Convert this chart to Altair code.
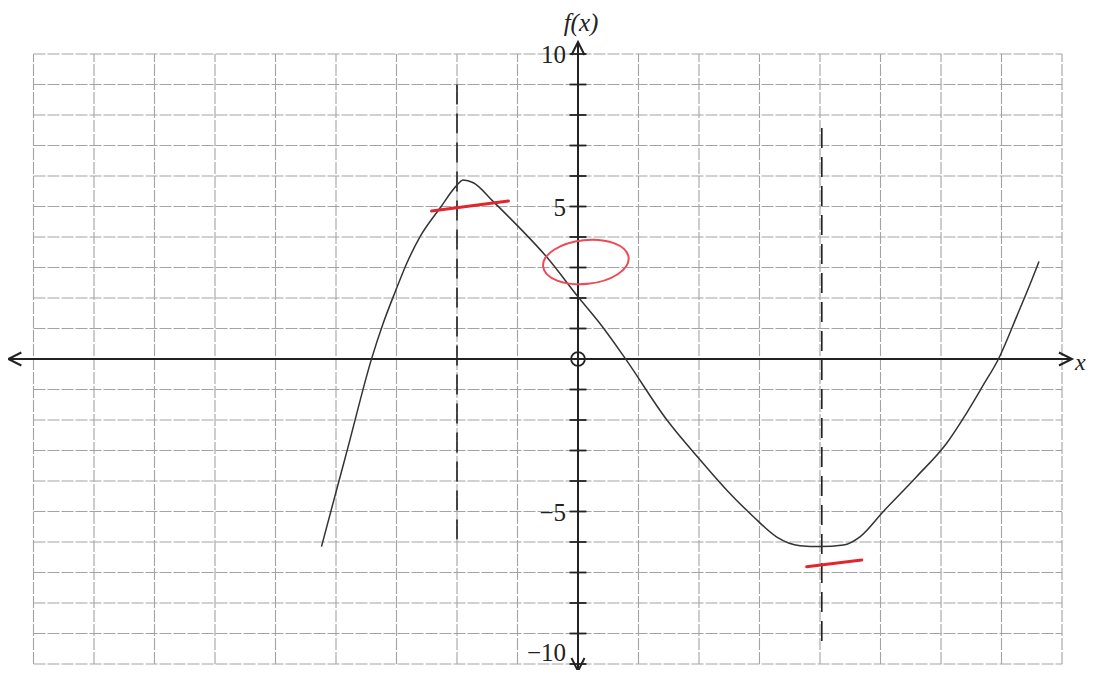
import altair as alt
import pandas as pd

# ---- data ----
curve_x = [-4.24, -4.04, -3.80, -3.41, -3.22, -3.02, -2.83, -2.61, -2.28, -2.00, -1.90, -1.73,
           -1.40, -1.01, -0.52, 0.00, 0.36, 0.78, 1.47, 2.02, 2.46, 2.90, 3.28, 3.67, 4.00,
           4.39, 4.66, 5.05, 5.60, 6.09, 6.42, 6.70, 6.95, 7.25, 7.50, 7.62]
curve_y = [-6.15, -4.66, -2.88, 0.02, 1.17, 2.21, 3.14, 4.01, 4.95, 5.70, 5.87, 5.78,
           5.16, 4.39, 3.35, 2.04, 1.17, 0.02, -2.00, -3.31, -4.30, -5.17, -5.83, -6.12, -6.15,
           -6.10, -5.83, -4.99, -3.85, -2.77, -1.78, -0.85, 0.00, 1.39, 2.59, 3.20]

grid_x = list(range(-9, 9))      # vertical grid lines
grid_y = list(range(-10, 11))    # horizontal grid lines
tick_y = [v for v in range(-10, 11) if v != 0]
label_text = ["10", "5", "\u22125", "\u221210"]

dash_x = [-2.0, 4.03]
dash_top = [9.0, 7.57]
dash_bot = [-5.93, -9.54]

red_x1 = [-2.42, 3.78]
red_y1 = [4.85, -6.81]
red_x2 = [-1.15, 4.69]
red_y2 = [5.18, -6.59]
circle_x = [0.13]
circle_y = [3.18]

W, H = 1078, 662
X_DOM = [(8 - 578) / 60.5, (8 + W - 578) / 60.5]
Y_DOM = [(359 - (8 + H)) / 30.5, (359 - 8) / 30.5]

xs = alt.Scale(domain=X_DOM, nice=False, zero=False)
ys = alt.Scale(domain=Y_DOM, nice=False, zero=False)


def X(f="x"):
    return alt.X(f"{f}:Q", scale=xs, axis=None)


def Y(f="y"):
    return alt.Y(f"{f}:Q", scale=ys, axis=None)


GRID = "#a3a3a3"
SERIF = "'Liberation Serif', 'DejaVu Serif', serif"

vgrid = alt.Chart(pd.DataFrame({"x": grid_x, "y": -10, "y2": 10})).mark_rule(
    color=GRID, strokeWidth=1.1, strokeDash=[12, 2]
).encode(x=X(), y=Y(), y2="y2:Q")

hgrid = alt.Chart(pd.DataFrame({"y": grid_y, "x": -9, "x2": 8})).mark_rule(
    color=GRID, strokeWidth=1.1, strokeDash=[12, 2]
).encode(x=X(), x2="x2:Q", y=Y())

xaxis = alt.Chart(pd.DataFrame({"x": [X_DOM[0] + 0.02], "x2": [(1071 - 578) / 60.5], "y": [0]})).mark_rule(
    color="#222", strokeWidth=2
).encode(x=X(), x2="x2:Q", y=Y())

yaxis = alt.Chart(pd.DataFrame({"y": [(359 - 674) / 30.5], "y2": [(359 - 42) / 30.5], "x": [0]})).mark_rule(
    color="#222", strokeWidth=2
).encode(x=X(), y=Y(), y2="y2:Q")

yticks = alt.Chart(pd.DataFrame({"y": tick_y, "x": -0.14, "x2": 0.14})).mark_rule(
    color="#222", strokeWidth=1.8
).encode(x=X(), x2="x2:Q", y=Y())

arrow_path = "M-2,-1 L0,0 L-2,1"
arrows = alt.Chart(pd.DataFrame({
    "x": [X_DOM[0] + 0.005, (1072 - 578) / 60.5, 0, 0],
    "y": [0, 0, (359 - 42) / 30.5, (359 - 671) / 30.5],
    "a": [180, 0, 270, 90],
})).mark_point(shape=arrow_path, filled=False, color="#222", strokeWidth=2, size=170, opacity=1).encode(
    x=X(), y=Y(), angle=alt.Angle("a:Q", scale=None)
)

origin = alt.Chart(pd.DataFrame({"x": [0], "y": [0]})).mark_point(
    shape="circle", filled=False, color="#222", strokeWidth=1.8, size=190, opacity=1
).encode(x=X(), y=Y())

ylabels = alt.Chart(pd.DataFrame({"y": [10, 5, -5, -9.6], "t": label_text, "x": (566 - 578) / 60.5})).mark_text(
    font=SERIF, fontSize=25, align="right", baseline="middle", color="#222", dy=1
).encode(x=X(), y=Y(), text="t:N")

ftitle = alt.Chart(pd.DataFrame({"x": [(581 - 578) / 60.5], "y": [(359 - 23) / 30.5], "t": ["f(x)"]})).mark_text(
    font=SERIF, fontSize=25, fontStyle="italic", baseline="middle", align="center", color="#222"
).encode(x=X(), y=Y(), text="t:N")

xtitle = alt.Chart(pd.DataFrame({"x": [(1075 - 578) / 60.5], "y": [(359 - 363) / 30.5], "t": ["x"]})).mark_text(
    font=SERIF, fontSize=24, fontStyle="italic", baseline="middle", align="left", color="#222"
).encode(x=X(), y=Y(), text="t:N")

dashes = alt.Chart(pd.DataFrame({"x": dash_x, "y": dash_top, "y2": dash_bot})).mark_rule(
    color="#222", strokeWidth=1.6, strokeDash=[20, 9]
).encode(x=X(), y=Y(), y2="y2:Q")

curve = alt.Chart(pd.DataFrame({"x": curve_x, "y": curve_y, "o": list(range(len(curve_x)))})).mark_line(
    color="#333", strokeWidth=1.5, interpolate="monotone"
).encode(x=X(), y=Y(), order="o:Q")

red = alt.Chart(pd.DataFrame({"x": red_x1, "y": red_y1, "x2": red_x2, "y2": red_y2})).mark_rule(
    color="#e3262e", strokeWidth=3, strokeCap="round"
).encode(x=X(), y=Y(), x2="x2:Q", y2="y2:Q")

k = 0.552 * 0.51
ell = (f"M-1,0 C-1,{-k} -0.552,-0.51 0,-0.51 C0.552,-0.51 1,{-k} 1,0 "
       f"C1,{k} 0.552,0.51 0,0.51 C-0.552,0.51 -1,{k} -1,0 Z")
redcircle = alt.Chart(pd.DataFrame({"x": circle_x, "y": circle_y})).mark_point(
    shape=ell, filled=False, color="#ee4a55", strokeWidth=2, size=86 * 86, opacity=1, angle=354
).encode(x=X(), y=Y())

chart = alt.layer(
    vgrid, hgrid, xaxis, yaxis, yticks, dashes, curve, red, redcircle, arrows, origin, ylabels, ftitle, xtitle
).properties(
    width=W, height=H, autosize=alt.AutoSizeParams(type="none"), padding=0, background="white"
).configure_view(stroke=None, strokeWidth=0)

chart.save("out.html", embed_options={"renderer": "svg", "actions": False})
